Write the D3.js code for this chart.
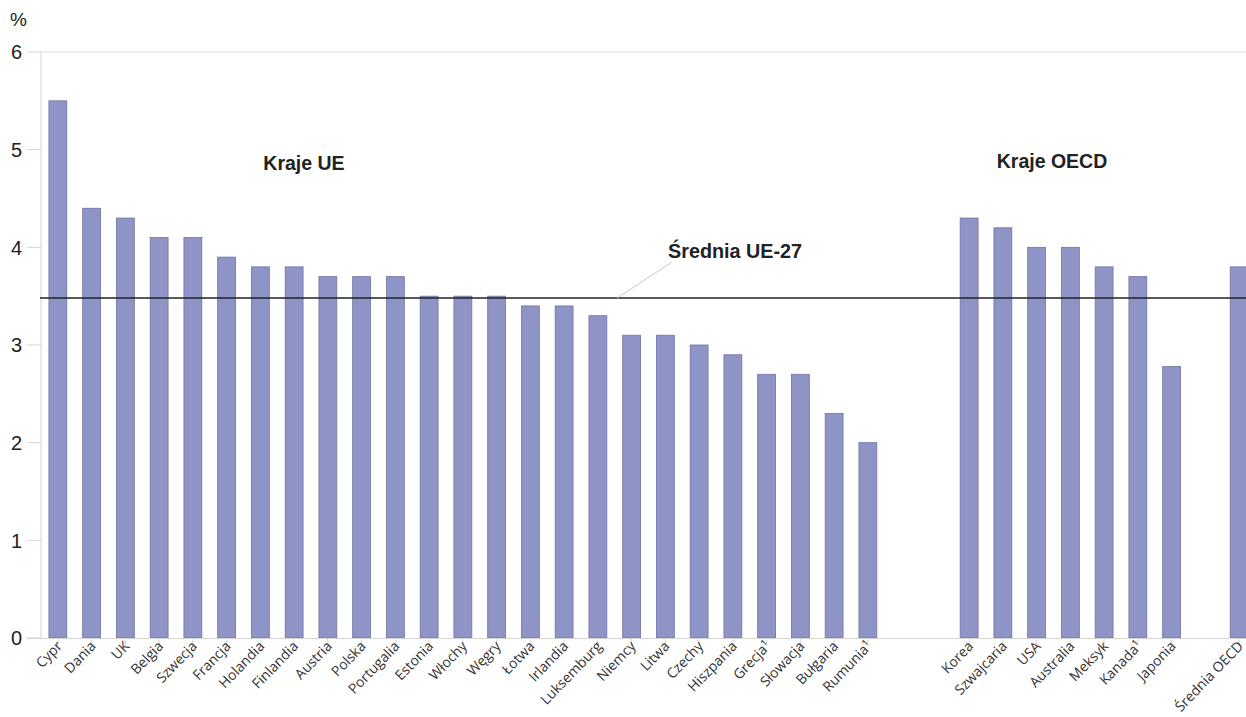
<!DOCTYPE html>
<html><head><meta charset="utf-8">
<script src="https://cdn.jsdelivr.net/npm/d3@7"></script>
<style>html,body{margin:0;padding:0;background:#fff;overflow:hidden}</style>
</head><body>
<svg id="c" width="1246" height="717"></svg>
<script>
const euCountries = ["Cypr","Dania","UK","Belgia","Szwecja","Francja","Holandia","Finlandia","Austria","Polska","Portugalia","Estonia","Włochy","Węgry","Łotwa","Irlandia","Luksemburg","Niemcy","Litwa","Czechy","Hiszpania","Grecja¹","Słowacja","Bułgaria","Rumunia¹"];
const euValues = [5.5,4.4,4.3,4.1,4.1,3.9,3.8,3.8,3.7,3.7,3.7,3.5,3.5,3.5,3.4,3.4,3.3,3.1,3.1,3.0,2.9,2.7,2.7,2.3,2.0];
const oecdCountries = ["Korea","Szwajcaria","USA","Australia","Meksyk","Kanada¹","Japonia"];
const oecdValues = [4.3,4.2,4.0,4.0,3.8,3.7,2.78];
const oecdAvgLabel = "Średnia OECD";
const oecdAvgValue = 3.8;
const euAverage = 3.48;
const yTicks = [0,1,2,3,4,5,6];

(function(){
const svg = d3.select("#c");
const left = 41, topY = 52, bottom = 638;
const slots = [...euCountries, "_g1", "_g2", ...oecdCountries, "_g3", oecdAvgLabel];
const data = [
  ...euCountries.map((c,i)=>({c, v: euValues[i]})),
  ...oecdCountries.map((c,i)=>({c, v: oecdValues[i]})),
  {c: oecdAvgLabel, v: oecdAvgValue}
];
const x = d3.scaleBand().domain(slots).range([left, left + 36*33.75]).paddingInner(0.44).paddingOuter(0.22);
const y = d3.scaleLinear().domain([0,6]).range([bottom, topY]);

const yg = svg.append("g");
yg.selectAll("line.t").data(yTicks).join("line")
  .attr("x1", 27).attr("x2", left).attr("y1", d=>y(d)).attr("y2", d=>y(d))
  .attr("stroke", "#d4d4d4").attr("stroke-width", 1);
yg.selectAll("text").data(yTicks).join("text")
  .attr("x", 22).attr("y", d=>y(d)).attr("dy", "0.36em").attr("text-anchor", "end")
  .attr("font-family", "Liberation Sans, Arial, sans-serif").attr("font-size", 20).attr("fill", "#222")
  .text(d=>d);
svg.append("line").attr("x1", left).attr("x2", 1246).attr("y1", y(6)).attr("y2", y(6)).attr("stroke", "#d9d9d9");
svg.append("line").attr("x1", left).attr("x2", left).attr("y1", y(6)).attr("y2", bottom).attr("stroke", "#d4d4d4");
svg.append("text").attr("x", 10).attr("y", 26).attr("font-family", "Liberation Sans, Arial, sans-serif")
  .attr("font-size", 19).attr("fill", "#222").text("%");

svg.append("g").selectAll("rect").data(data).join("rect")
  .attr("x", d=>x(d.c)+0.5).attr("y", d=>y(d.v)).attr("width", x.bandwidth()-1).attr("height", d=>bottom-y(d.v))
  .attr("fill", "#8f94c6").attr("stroke", "#6f73a6").attr("stroke-width", 0.8);

svg.append("line").attr("x1", 27).attr("x2", 1246).attr("y1", bottom+0.5).attr("y2", bottom+0.5).attr("stroke", "#d4d4d4");

const xg = svg.append("g");
xg.selectAll("line").data(data).join("line")
  .attr("x1", d=>x(d.c)+x.bandwidth()/2).attr("x2", d=>x(d.c)+x.bandwidth()/2)
  .attr("y1", bottom).attr("y2", bottom+8).attr("stroke", "#d4d4d4");
xg.selectAll("text").data(data).join("text")
  .attr("transform", d=>`translate(${x(d.c)+x.bandwidth()/2+5},${bottom+9}) rotate(-46)`)
  .attr("text-anchor", "end")
  .attr("font-family", "Open Sans, Noto Sans, sans-serif").attr("font-size", 14).attr("fill", "#333")
  .text(d=>d.c);

svg.append("line").attr("x1", 40).attr("x2", 1246).attr("y1", y(euAverage)).attr("y2", y(euAverage))
  .attr("stroke", "#222").attr("stroke-width", 1.5);
svg.append("line").attr("x1", 617).attr("y1", y(euAverage)).attr("x2", 672).attr("y2", 262)
  .attr("stroke", "#c8c8c8").attr("stroke-width", 1);
const bold = "Liberation Sans, Arial, sans-serif";
svg.append("text").attr("x", 668).attr("y", 258).attr("font-family", bold).attr("font-weight", "bold")
  .attr("font-size", 19.8).attr("fill", "#222").text("Średnia UE-27");
svg.append("text").attr("x", 304).attr("y", 170).attr("text-anchor", "middle").attr("font-family", bold).attr("font-weight", "bold")
  .attr("font-size", 19.5).attr("fill", "#222").text("Kraje UE");
svg.append("text").attr("x", 1052).attr("y", 168).attr("text-anchor", "middle").attr("font-family", bold).attr("font-weight", "bold")
  .attr("font-size", 19.5).attr("fill", "#222").text("Kraje OECD");
})();
</script>
</body></html>
